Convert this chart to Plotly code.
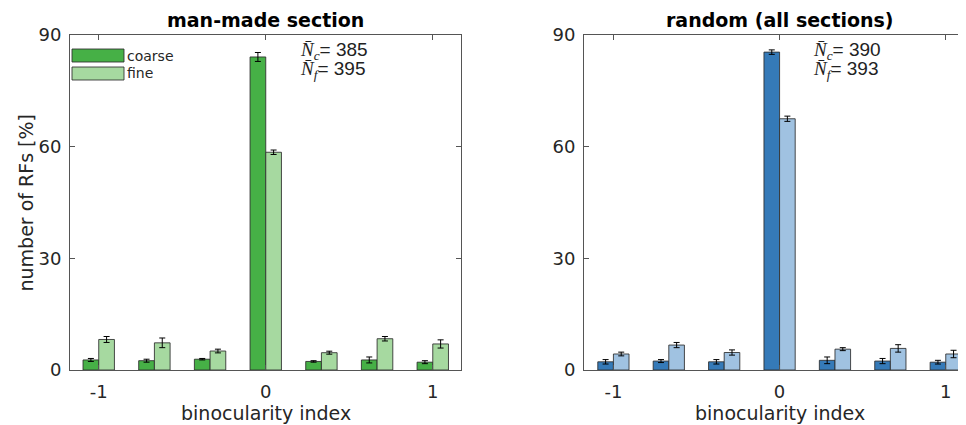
import plotly.graph_objects as go

# ---- data ----
bino_x = [-1, -2/3, -1/3, 0, 1/3, 2/3, 1]
tick_vals = [-1, 0, 1]
tick_text = ["-1", "0", "1"]

mm_coarse = [2.7, 2.5, 2.9, 84.1, 2.3, 2.7, 2.1]
mm_coarse_err = [0.4, 0.4, 0.2, 1.2, 0.2, 0.8, 0.4]
mm_fine = [8.2, 7.3, 5.1, 58.5, 4.65, 8.4, 7.0]
mm_fine_err = [0.8, 1.3, 0.5, 0.6, 0.4, 0.6, 1.1]

rd_coarse = [2.2, 2.4, 2.2, 85.4, 2.6, 2.4, 2.1]
rd_coarse_err = [0.6, 0.4, 0.6, 0.6, 0.9, 0.7, 0.5]
rd_fine = [4.3, 6.7, 4.7, 67.5, 5.6, 5.8, 4.3]
rd_fine_err = [0.5, 0.7, 0.7, 0.7, 0.4, 1.0, 1.0]

titles = ["man-made section", "random (all sections)"]
n_labels = [("385", "395"), ("390", "393")]

GREEN_C, GREEN_F = "#46b046", "#a6d9a0"
BLUE_C, BLUE_F = "#357ab8", "#a0c2e1"
FONT = "DejaVu Sans"
AX = "#555555"
TXT = "#262626"
EDGE = "rgba(45,45,45,0.85)"
BW = 0.094

fig = go.Figure()

def bars(x, y, e, color, xa, ya, offset):
    fig.add_trace(go.Bar(
        x=x, y=y, xaxis=xa, yaxis=ya, showlegend=False,
        width=BW, offset=offset,
        marker=dict(color=color, line=dict(color=EDGE, width=1)),
        error_y=dict(type="data", array=e, color="black", thickness=1, width=3),
    ))

bars(bino_x, mm_coarse, mm_coarse_err, GREEN_C, "x", "y", -BW)
bars(bino_x, mm_fine, mm_fine_err, GREEN_F, "x", "y", 0)
bars(bino_x, rd_coarse, rd_coarse_err, BLUE_C, "x2", "y2", -BW)
bars(bino_x, rd_fine, rd_fine_err, BLUE_F, "x2", "y2", 0)

W, H = 966, 425
OFF = 8  # page body margin


def px_x(sx):
    return (sx - OFF) / W


def py(sy):
    return 1 - (sy - OFF) / H


dom_y = [py(370), py(35)]

xcommon = dict(tickvals=tick_vals, ticktext=tick_text, ticks="inside", ticklen=5,
               tickcolor=AX, showline=True, linecolor=AX, linewidth=1, mirror="ticks",
               showgrid=False, zeroline=False,
               tickfont=dict(family=FONT, size=18, color=TXT), ticklabelstandoff=5)
ycommon = dict(range=[0, 90], tickvals=[0, 30, 60, 90], ticks="inside", ticklen=5,
               tickcolor=AX, showline=True, linecolor=AX, linewidth=1, mirror="ticks",
               showgrid=False, zeroline=False,
               tickfont=dict(family=FONT, size=18, color=TXT), ticklabelstandoff=4)

fig.update_layout(
    width=W, height=H, margin=dict(l=0, r=0, t=0, b=0, autoexpand=False),
    paper_bgcolor="white", plot_bgcolor="white",
    barmode="overlay",
    xaxis=dict(domain=[px_x(70), px_x(461)], range=[-1.172, 1.169], anchor="y", **xcommon),
    yaxis=dict(domain=dom_y, anchor="x", **ycommon),
    xaxis2=dict(domain=[px_x(584), 1.0], range=[-1.177, 1.17], anchor="y2", **xcommon),
    yaxis2=dict(domain=dom_y, anchor="x2", **ycommon),
)

ann = []
for xa, t in zip(["x", "x2"], titles):
    ann.append(dict(x=0, xref=xa, y=py(20), yref="paper", xanchor="center", yanchor="middle",
                    text=f"<b>{t}</b>", showarrow=False,
                    font=dict(family=FONT, size=19, color="black")))
    ann.append(dict(x=0, xref=xa, y=py(413), yref="paper", xanchor="center", yanchor="middle",
                    text="binocularity index", showarrow=False,
                    font=dict(family=FONT, size=19, color=TXT)))

ann.append(dict(x=px_x(25), xref="paper", y=py(202.5), yref="paper", xanchor="center",
                yanchor="middle", text="number of RFs [%]", textangle=-90, showarrow=False,
                font=dict(family=FONT, size=19, color=TXT)))

for sx, (nc, nf) in zip([298, 811], n_labels):
    for row, (sub, val) in enumerate([("c", nc), ("f", nf)]):
        ann.append(dict(
            x=px_x(sx), xref="paper", y=py(51 + 19 * row), yref="paper",
            xanchor="left", yanchor="middle", showarrow=False, align="left",
            text=(f"<span style='font-family:Liberation Serif'><i>N\u0304</i><sub><i>{sub}</i></sub></span>"
                  f"= {val}"),
            font=dict(family="Liberation Sans", size=19, color="#222222")))

shapes = []
for i, (col, lab) in enumerate([(GREEN_C, "coarse"), (GREEN_F, "fine")]):
    y0 = 49 + 18 * i
    shapes.append(dict(type="rect", xref="paper", yref="paper",
                       x0=px_x(72), x1=px_x(124), y0=py(y0 + 13), y1=py(y0),
                       fillcolor=col, line=dict(color=EDGE, width=1)))
    ann.append(dict(x=px_x(125), xref="paper", y=py(y0 + 6.5), yref="paper",
                    xanchor="left", yanchor="middle", showarrow=False, text=lab,
                    font=dict(family=FONT, size=14, color=TXT)))

fig.update_layout(annotations=ann, shapes=shapes)
fig.write_html("out.html")
